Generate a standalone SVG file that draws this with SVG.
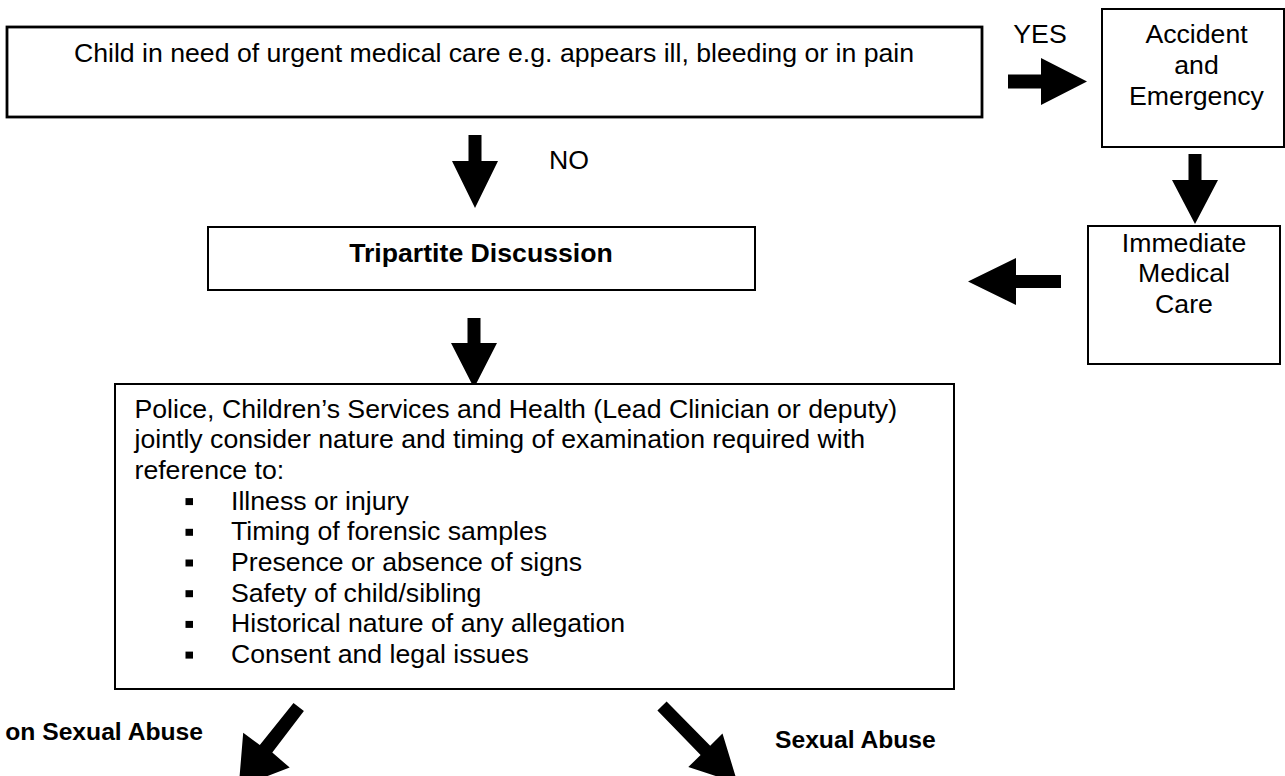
<svg xmlns="http://www.w3.org/2000/svg" width="1285" height="776" viewBox="0 0 1285 776">
<style>
  .box { fill: #ffffff; stroke: #000000; stroke-width: 2; }
  .thick { stroke-width: 2.8; }
  .t { font-family: "Liberation Sans", Arial, sans-serif; font-size: 26.67px; fill: #000000; }
  .c { text-anchor: middle; }
  .b { font-weight: bold; }
  .lbl { font-family: "Liberation Sans", Arial, sans-serif; font-size: 24.67px; font-weight: bold; fill: #000000; }
  .arrow { fill: #000000; stroke: none; }
  .bullet { fill: #000000; }
</style>
<rect width="1285" height="776" fill="#ffffff"/>

<g id="connectors">
  <!-- YES: child -> A&E -->
  <polygon class="arrow" points="1008,74.5 1041,74.5 1041,58 1087,81.5 1041,105 1041,88.5 1008,88.5"/>
  <!-- A&E -> Immediate care -->
  <polygon class="arrow" points="1188.5,154 1201.5,154 1201.5,180 1218,180 1195,224 1172,180 1188.5,180"/>
  <!-- Immediate care -> Tripartite -->
  <polygon class="arrow" points="1061,275 1016,275 1016,258 968,281.5 1016,305 1016,288 1061,288"/>
  <!-- NO: child -> Tripartite -->
  <polygon class="arrow" points="468.5,135 481.5,135 481.5,161 498,161 475,208 452,161 468.5,161"/>
  <!-- Tripartite -> Police -->
  <polygon class="arrow" points="467.5,318 480.5,318 480.5,343 497,343 474,388 451,343 467.5,343"/>
  <!-- Police -> Non Sexual Abuse -->
  <polygon class="arrow" points="293.5,703.1 303.9,710.9 272.3,752.5 289.7,767.6 238.7,787 243.2,732.8 259.8,744.9"/>
  <!-- Police -> Sexual Abuse -->
  <polygon class="arrow" points="657.4,710.6 666.6,701.4 710.2,745.7 722.5,733.5 737.6,783.1 688.3,767.1 700.6,754.9"/>
  <text class="t c" x="1040" y="43">YES</text>
  <text class="t" x="549" y="169">NO</text>
  <text class="lbl" x="203" y="740" text-anchor="end">on Sexual Abuse</text>
  <text class="lbl" x="775" y="748">Sexual Abuse</text>
</g>

<g id="node-child">
  <rect class="box thick" x="7" y="27" width="975" height="90"/>
  <text class="t c" x="494" y="62">Child in need of urgent medical care e.g. appears ill, bleeding or in pain</text>
</g>

<g id="node-ae">
  <rect class="box" x="1102" y="9" width="182" height="138"/>
  <text class="t c" x="1196.5" y="43">Accident</text>
  <text class="t c" x="1196.5" y="74">and</text>
  <text class="t c" x="1196.5" y="104.5">Emergency</text>
</g>

<g id="node-immediate">
  <rect class="box" x="1088" y="226" width="192" height="138"/>
  <text class="t c" x="1184" y="251.5">Immediate</text>
  <text class="t c" x="1184" y="282">Medical</text>
  <text class="t c" x="1184" y="312.5">Care</text>
</g>

<g id="node-tripartite">
  <rect class="box" x="208" y="227" width="547" height="63"/>
  <text class="t c b" x="481" y="262">Tripartite Discussion</text>
</g>

<g id="node-police">
  <rect class="box" x="115" y="384" width="839" height="305"/>
  <text class="t" x="134.5" y="417.5">Police, Children’s Services and Health (Lead Clinician or deputy)</text>
  <text class="t" x="134.5" y="448.2">jointly consider nature and timing of examination required with</text>
  <text class="t" x="134.5" y="478.9">reference to:</text>
  <rect class="bullet" x="185.5" y="498.1" width="7.5" height="7"/>
  <text class="t" x="231" y="509.6">Illness or injury</text>
  <rect class="bullet" x="185.5" y="528.8" width="7.5" height="7"/>
  <text class="t" x="231" y="540.3">Timing of forensic samples</text>
  <rect class="bullet" x="185.5" y="559.5" width="7.5" height="7"/>
  <text class="t" x="231" y="571">Presence or absence of signs</text>
  <rect class="bullet" x="185.5" y="590.2" width="7.5" height="7"/>
  <text class="t" x="231" y="601.7">Safety of child/sibling</text>
  <rect class="bullet" x="185.5" y="620.9" width="7.5" height="7"/>
  <text class="t" x="231" y="632.4">Historical nature of any allegation</text>
  <rect class="bullet" x="185.5" y="651.6" width="7.5" height="7"/>
  <text class="t" x="231" y="663.1">Consent and legal issues</text>
</g>
</svg>
